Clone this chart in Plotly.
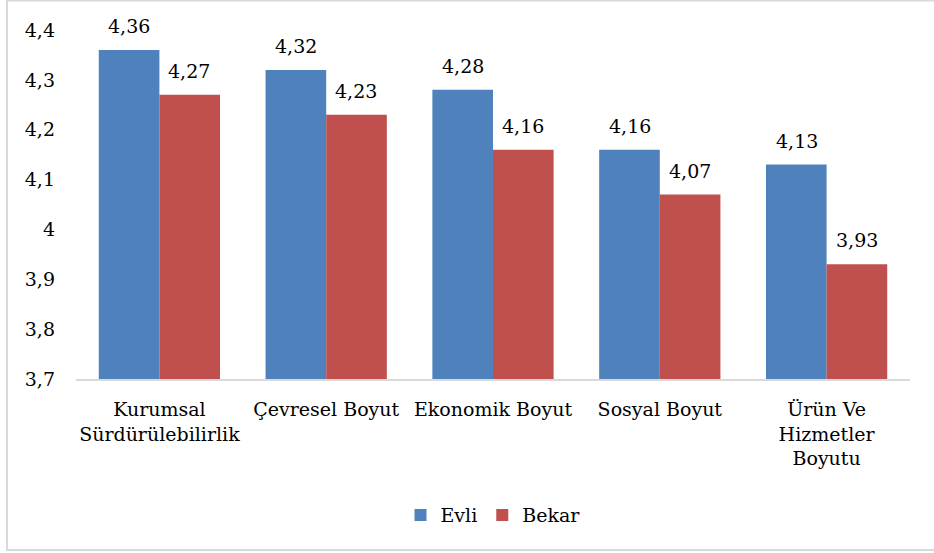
import plotly.graph_objects as go

categories = ["Kurumsal<br>Sürdürülebilirlik", "Çevresel Boyut", "Ekonomik Boyut",
              "Sosyal Boyut", "Ürün Ve<br>Hizmetler<br>Boyutu"]
evli = [4.36, 4.32, 4.28, 4.16, 4.13]
bekar = [4.27, 4.23, 4.16, 4.07, 3.93]
y_ticks = [3.7, 3.8, 3.9, 4.0, 4.1, 4.2, 4.3, 4.4]
y_tick_labels = ["3,7", "3,8", "3,9", "4", "4,1", "4,2", "4,3", "4,4"]

BLUE = "#4F81BD"
RED = "#C0504D"
FONT = "DejaVu Serif"
SIZE = 19


def fmt(v):
    return f"{v:.2f}".replace(".", ",")


fig = go.Figure()
fig.add_trace(go.Bar(name="Evli", x=categories, y=evli,
                     marker=dict(color=BLUE, line=dict(width=0))))
fig.add_trace(go.Bar(name="Bekar", x=categories, y=bekar,
                     marker=dict(color=RED, line=dict(width=0))))

# value labels above each bar
annotations = []
for series, shift in ((evli, -30), (bekar, 30)):
    for cat, v in zip(categories, series):
        annotations.append(dict(x=cat, y=v, xref="x", yref="y", text=fmt(v),
                                showarrow=False, xshift=shift, yshift=11,
                                yanchor="bottom",
                                font=dict(family=FONT, size=SIZE, color="#000")))

fig.update_layout(
    width=934, height=553,
    margin=dict(l=76, r=24, t=30, b=174),
    paper_bgcolor="white", plot_bgcolor="white",
    barmode="group", bargap=0.273, bargroupgap=0,
    font=dict(family=FONT, size=SIZE, color="#000"),
    showlegend=True,
    legend=dict(orientation="h", x=0.5, xanchor="center", y=-0.39, yanchor="middle",
                font=dict(family=FONT, size=SIZE), itemwidth=30,
                traceorder="normal"),
    annotations=annotations,
    shapes=[dict(type="rect", xref="paper", yref="paper",
                 x0=(7 - 76) / 834, x1=(945 - 76) / 834,
                 y0=(379 - 550) / 349, y1=(379 - 0.5) / 349,
                 line=dict(color="#D9D9D9", width=2), layer="below")],
)
fig.update_yaxes(range=[3.7, 4.4], tickvals=y_ticks, ticktext=y_tick_labels,
                 showgrid=False, zeroline=False, showline=False,
                 ticks="", ticklabelstandoff=20,
                 tickfont=dict(family=FONT, size=SIZE, color="#000"))
fig.update_xaxes(showgrid=False, showline=True, linecolor="#D9D9D9", linewidth=2,
                 ticks="", ticklabelstandoff=12, tickangle=0,
                 tickfont=dict(family=FONT, size=SIZE, color="#000"))

fig.write_html("out.html")
